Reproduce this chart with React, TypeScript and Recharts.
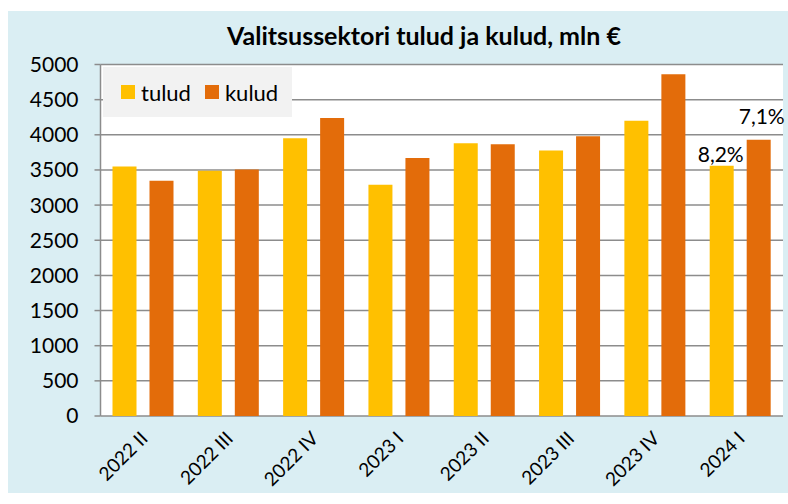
import React from "react";
import {
  BarChart,
  Bar,
  XAxis,
  YAxis,
  CartesianGrid,
  LabelList,
} from "recharts";

const categories = ["2022 II", "2022 III", "2022 IV", "2023 I", "2023 II", "2023 III", "2023 IV", "2024 I"];
const tulud = [3550, 3490, 3950, 3290, 3880, 3775, 4200, 3560];
const kulud = [3345, 3505, 4240, 3670, 3865, 3980, 4860, 3930];
const tuludLabels = ["", "", "", "", "", "", "", "8,2%"];
const kuludLabels = ["", "", "", "", "", "", "", "7,1%"];
const yTicks = [0, 500, 1000, 1500, 2000, 2500, 3000, 3500, 4000, 4500, 5000];
const boundaryTicks = [0, 1, 2, 3, 4, 5, 6, 7, 8];
const seriesNames = ["tulud", "kulud"];
const title = "Valitsussektori tulud ja kulud, mln €";

const TULUD_COLOR = "#FFC000";
const KULUD_COLOR = "#E36C0A";
const BG = "#DAEEF3";
const FONT = "Lato, 'Open Sans', sans-serif";
const AXIS_GRAY = "#8C8C8C";

const data = categories.map((c, i) => ({
  cat: c,
  tulud: tulud[i],
  kulud: kulud[i],
  tl: tuludLabels[i],
  kl: kuludLabels[i],
}));

const XTick = (props: any) => {
  const { x, y, payload } = props;
  const ax = x - 5;
  const ay = y + 5;
  return (
    <text
      x={ax}
      y={ay}
      transform={`rotate(-45, ${ax}, ${ay})`}
      textAnchor="end"
      dominantBaseline="hanging"
      fontFamily={FONT}
      fontSize={19}
      fill="#000"
    >
      {payload.value}
    </text>
  );
};

export default function App() {
  const colors = [TULUD_COLOR, KULUD_COLOR];
  return (
    <>
      <style>{`html,body{margin:0;padding:0;overflow:hidden;background:#fff;}`}</style>
      <div
        style={{
          position: "relative",
          width: 780,
          height: 493,
          marginLeft: 8,
          top: 11,
          background: BG,
          fontFamily: FONT,
          overflow: "hidden",
        }}
      >
        <div
          style={{
            position: "absolute",
            left: 0,
            width: 832,
            top: 10,
            textAlign: "center",
            fontWeight: "bold",
            fontSize: 25,
            color: "#000",
            lineHeight: "28px",
            whiteSpace: "nowrap",
          }}
        >
          {title}
        </div>
        <BarChart
          width={780}
          height={493}
          data={data}
          margin={{ top: 53.5, right: 5, bottom: 0, left: 0 }}
          barSize={24}
          barGap={13}
        >
          <CartesianGrid
            vertical={false}
            stroke={AXIS_GRAY}
            strokeWidth={1.5}
            fill="#FFFFFF"
            fillOpacity={1}
          />
          <XAxis
            xAxisId="b"
            type="number"
            domain={[0, 8]}
            ticks={boundaryTicks}
            tick={false}
            height={0}
            tickSize={7}
            axisLine={{ stroke: AXIS_GRAY, strokeWidth: 1.5 }}
            tickLine={{ stroke: AXIS_GRAY, strokeWidth: 1.5 }}
            allowDataOverflow
          />
          <XAxis
            xAxisId="c"
            dataKey="cat"
            type="category"
            height={88}
            axisLine={false}
            tickLine={false}
            interval={0}
            tick={<XTick />}
          />
          <YAxis
            domain={[0, 5000]}
            ticks={yTicks}
            width={92.5}
            tickSize={6}
            tickMargin={16}
            interval={0}
            axisLine={{ stroke: AXIS_GRAY, strokeWidth: 1.5 }}
            tickLine={{ stroke: AXIS_GRAY, strokeWidth: 1.5 }}
            tick={{ fill: "#000", fontSize: 21, fontFamily: FONT }}
          />
          <Bar xAxisId="c" dataKey="tulud" fill={TULUD_COLOR} isAnimationActive={false}>
            <LabelList
              dataKey="tl"
              position="top"
              offset={4}
              fill="#000"
              fontSize={21}
              fontFamily={FONT}
              dx={-1}
            />
          </Bar>
          <Bar xAxisId="c" dataKey="kulud" fill={KULUD_COLOR} isAnimationActive={false}>
            <LabelList
              dataKey="kl"
              position="top"
              offset={16}
              fill="#000"
              fontSize={21}
              fontFamily={FONT}
              dx={3}
            />
          </Bar>
        </BarChart>
        <div
          style={{
            position: "absolute",
            left: 95,
            top: 56,
            width: 189,
            height: 50,
            background: "#F2F2F2",
            display: "flex",
            alignItems: "center",
            fontSize: 22,
            color: "#000",
          }}
        >
          {seriesNames.map((n, i) => (
            <div key={n} style={{ display: "flex", alignItems: "center", marginLeft: i === 0 ? 18 : 14 }}>
              <span style={{ display: "inline-block", width: 14, height: 14, background: colors[i], marginRight: 6 }} />
              <span>{n}</span>
            </div>
          ))}
        </div>
      </div>
    </>
  );
}
